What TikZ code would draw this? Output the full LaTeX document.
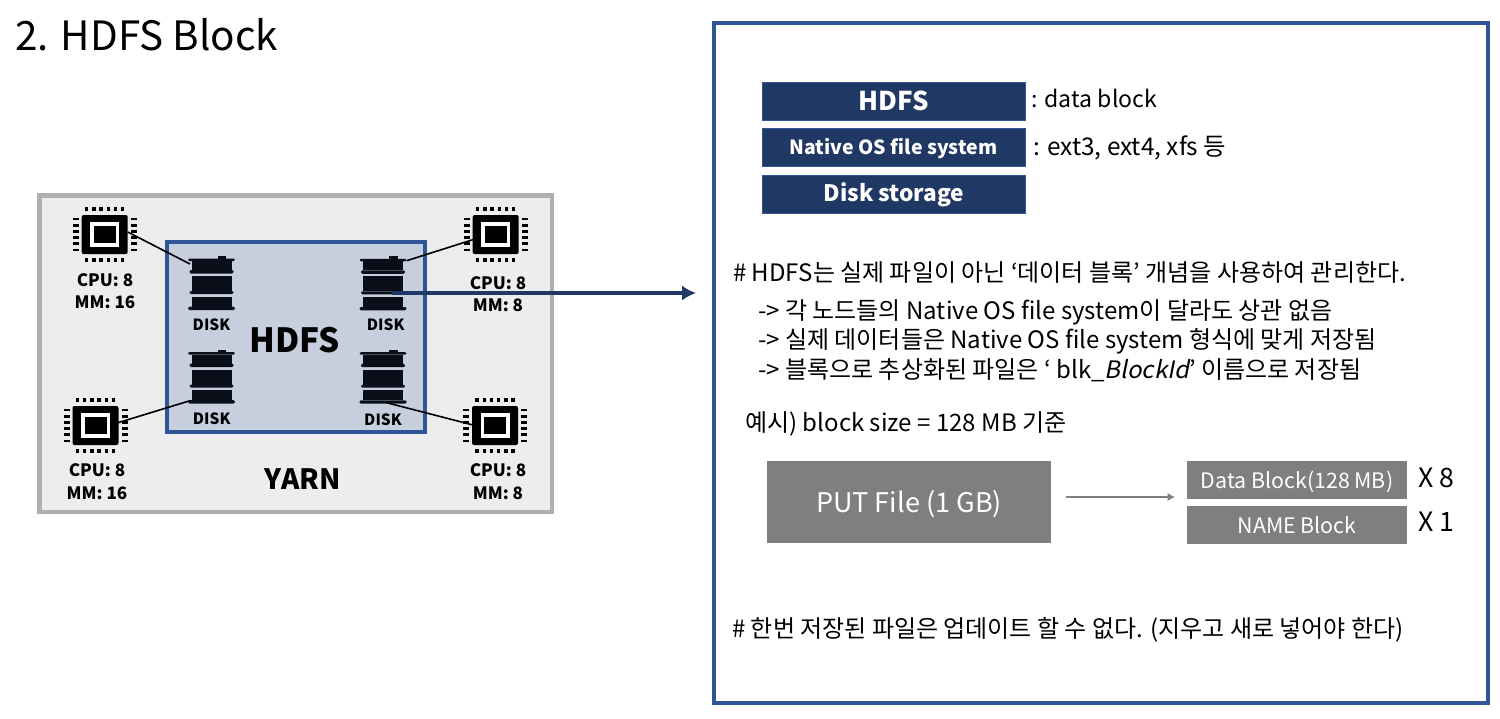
\documentclass[tikz,border=0pt]{standalone}
\usepackage{fontspec}
\setmainfont{Noto Sans CJK KR}[AutoFakeSlant=0.2]
\usetikzlibrary{arrows.meta,positioning}

\definecolor{hdfsnavy}{RGB}{32,56,100}
\definecolor{framegray}{RGB}{175,175,175}
\definecolor{yarnfill}{RGB}{237,237,237}
\definecolor{hdfsfill}{RGB}{199,206,222}
\definecolor{hdfsline}{RGB}{47,85,151}
\definecolor{blockgray}{RGB}{127,127,127}
\definecolor{chipblack}{RGB}{10,14,24}

\tikzset{
  navybox/.style={fill=hdfsnavy,draw=hdfsline,line width=.5pt,minimum width=197.5pt,minimum height=28.5pt,inner sep=0pt,text=white,font=\bfseries},
  graybox/.style={fill=blockgray,inner sep=0pt,text=white},
  plain/.style={inner sep=0pt,anchor=west,font=\fontsize{18}{22}\selectfont},
  hwlabel/.style={inner sep=0pt,align=center,font=\bfseries\fontsize{12.8}{17}\selectfont},
  wire/.style={line width=1.2pt,black}
}

% text sits a little lower in its box
\newcommand{\lowered}[1]{\raisebox{0pt}[\dimexpr\height+3pt\relax]{#1}}

% one chip, named #2, centre at #1
\newcommand{\chip}[2]{
\coordinate (#2) at #1;
\begin{scope}[shift={#1},x=.75pt,y=.75pt]
\fill[black,rounded corners=1.5pt] (-23,-19.5) rectangle (23,19.5);
\fill[white] (-14.5,-12.5) rectangle (14.5,12.5);
\fill[black] (-11,-8.7) rectangle (11,8.7);
\foreach \t in {-2.5,-1.5,...,2.5}
{
  \fill[black] ({\t*7.2-1.7},23.5) rectangle ({\t*7.2+1.7},27.5);
  \fill[black] ({\t*7.2-1.7},-27.5) rectangle ({\t*7.2+1.7},-23.5);
  \fill[black] (26,{\t*6.2-1.4}) rectangle (32,{\t*6.2+1.4});
  \fill[black] (-32,{\t*6.2-1.4}) rectangle (-26,{\t*6.2+1.4});
}
\end{scope}
}

% one disk stack, named #2, centre at #1
\newcommand{\stack}[2]{
\coordinate (#2) at #1;
\begin{scope}[shift={#1},x=.75pt,y=.75pt]
\fill[chipblack] (6,24) rectangle (14.5,27);
\fill[chipblack,rounded corners=1pt] (-23.5,22) rectangle (23.5,24.5);
\fill[chipblack] (-20,13) rectangle (20,22);
\fill[chipblack,rounded corners=1pt] (-22,9.5) rectangle (22,13);
\fill[chipblack] (-20,-8) rectangle (20,7);
\fill[chipblack,rounded corners=1pt] (-22,-11) rectangle (22,-8);
\fill[chipblack] (-20,-23.7) rectangle (20,-13.5);
\fill[chipblack,rounded corners=1pt] (-23.5,-27) rectangle (23.5,-23.7);
\end{scope}
}

\begin{document}
\begin{tikzpicture}[x=.75pt,y=-.75pt]
\useasboundingbox (0,0) rectangle (1500,718);

\node[anchor=west,inner sep=0pt,font=\fontsize{30.3}{36}\selectfont] (title) at (15,35) {2. HDFS Block};

%% left: the cluster
\draw[fill=yarnfill,draw=framegray,line width=3.4pt] (39.5,195.5) rectangle (552,512);
\draw[fill=hdfsfill,draw=hdfsline,line width=2.8pt] (167,242) rectangle (425,432);
\node[font=\bfseries\fontsize{25}{30}\selectfont,inner sep=0pt] (hdfsname) at (295,340) {HDFS};
\node[font=\bfseries\fontsize{21}{26}\selectfont,inner sep=0pt] (yarnname) at (303,479) {YARN};

\chip{(104.7,234.5)}{cpuA}
\chip{(495.7,234.5)}{cpuB}
\chip{(95.5,425.5)}{cpuC}
\chip{(495,425.5)}{cpuD}

\stack{(211.5,283)}{diskA}
\stack{(383,283.3)}{diskB}
\stack{(211.5,376.5)}{diskC}
\stack{(383,376.7)}{diskD}

%% ports of the wires
\coordinate (cpuAport) at (127.7,232);
\coordinate (diskAport) at (190,264);
\coordinate (cpuBport) at (475,239);
\coordinate (diskBport) at (406.7,260.7);
\coordinate (cpuCport) at (118,422.7);
\coordinate (diskCport) at (190,400.7);
\coordinate (cpuDport) at (473,425);
\coordinate (diskDport) at (386.7,402.7);

\foreach \n in {A,B,C,D}
  \draw[wire] (cpu\n port) -- (disk\n port);

\node[hwlabel] (labelA) at (105,291) {CPU: 8\\MM: 16};
\node[hwlabel] (labelB) at (498,294) {CPU: 8\\MM: 8};
\node[hwlabel] (labelC) at (97,481.5) {CPU: 8\\MM: 16};
\node[hwlabel] (labelD) at (498,481.5) {CPU: 8\\MM: 8};

\foreach \x/\y [count=\ni] in {211.5/325,385.7/325,211.7/419,383/420}
  \node[font=\bfseries\fontsize{11.6}{13}\selectfont,inner sep=0pt] (disklabel\ni) at (\x,\y) {DISK};

\coordinate (arrowstart) at (392,293);
\coordinate (arrowend) at (696,293);
\draw[hdfsnavy,line width=3.4pt,-{Latex[length=10.5pt,width=11.5pt]}] (arrowstart) -- (arrowend);

%% right: the panel
\draw[draw=hdfsline,line width=2.6pt] (714,23) rectangle (1488,703);

\node[navybox,font=\bfseries\fontsize{19.4}{24}\selectfont] (hdfsbox) at (893.5,101) {HDFS};
\node[navybox,font=\bfseries\fontsize{14.6}{18}\selectfont] (nativebox) at (893.5,147) {\lowered{Native OS file system}};
\node[navybox,font=\bfseries\fontsize{17}{20}\selectfont] (diskbox) at (894,194.5) {Disk storage};

\node[plain,font=\fontsize{17.3}{22}\selectfont] (dataline) at (1031,98) {: data block};
\node[plain,font=\fontsize{18.3}{22}\selectfont] (extline) at (1033,148) {: ext3, ext4, xfs 등};

\node[plain] (ruleone) at (733,273) {\# HDFS는 실제 파일이 아닌 ‘데이터 블록’ 개념을 사용하여 관리한다.};
\node[plain] (subone) at (758,312) {-> 각 노드들의 Native OS file system이 달라도 상관 없음};
\node[plain] (subtwo) at (758,341) {-> 실제 데이터들은 Native OS file system 형식에 맞게 저장됨};
\node[plain] (subthree) at (758,370) {-> 블록으로 추상화된 파일은 ‘ blk\_\textit{BlockId}’ 이름으로 저장됨};
\node[plain] (example) at (745,424) {예시) block size = 128 MB 기준};

\node[graybox,minimum width=213pt,minimum height=62pt,font=\fontsize{20.3}{24}\selectfont] (putfile) at (909,502) {\lowered{PUT File (1 GB)}};
\node[graybox,minimum width=165pt,minimum height=28.5pt,font=\fontsize{16}{20}\selectfont] (datablock) at (1297,480) {\lowered{Data Block(128 MB)}};
\node[graybox,minimum width=165pt,minimum height=28.5pt,font=\fontsize{16}{20}\selectfont] (nameblock) at (1297,525) {NAME Block};
\node[plain,font=\fontsize{20}{24}\selectfont] (xeight) at (1418,478) {X 8};
\node[plain,font=\fontsize{20}{24}\selectfont] (xone) at (1418,522) {X 1};

\coordinate (putout) at (1066,497);
\coordinate (blockin) at (1175,497);
\draw[gray,line width=.8pt,-{Latex[length=5.5pt,width=6pt]}] (putout) -- (blockin);

\node[plain] (ruletwo) at (732,630) {\# 한번 저장된 파일은 업데이트 할 수 없다. (지우고 새로 넣어야 한다)};
\end{tikzpicture}
\end{document}
